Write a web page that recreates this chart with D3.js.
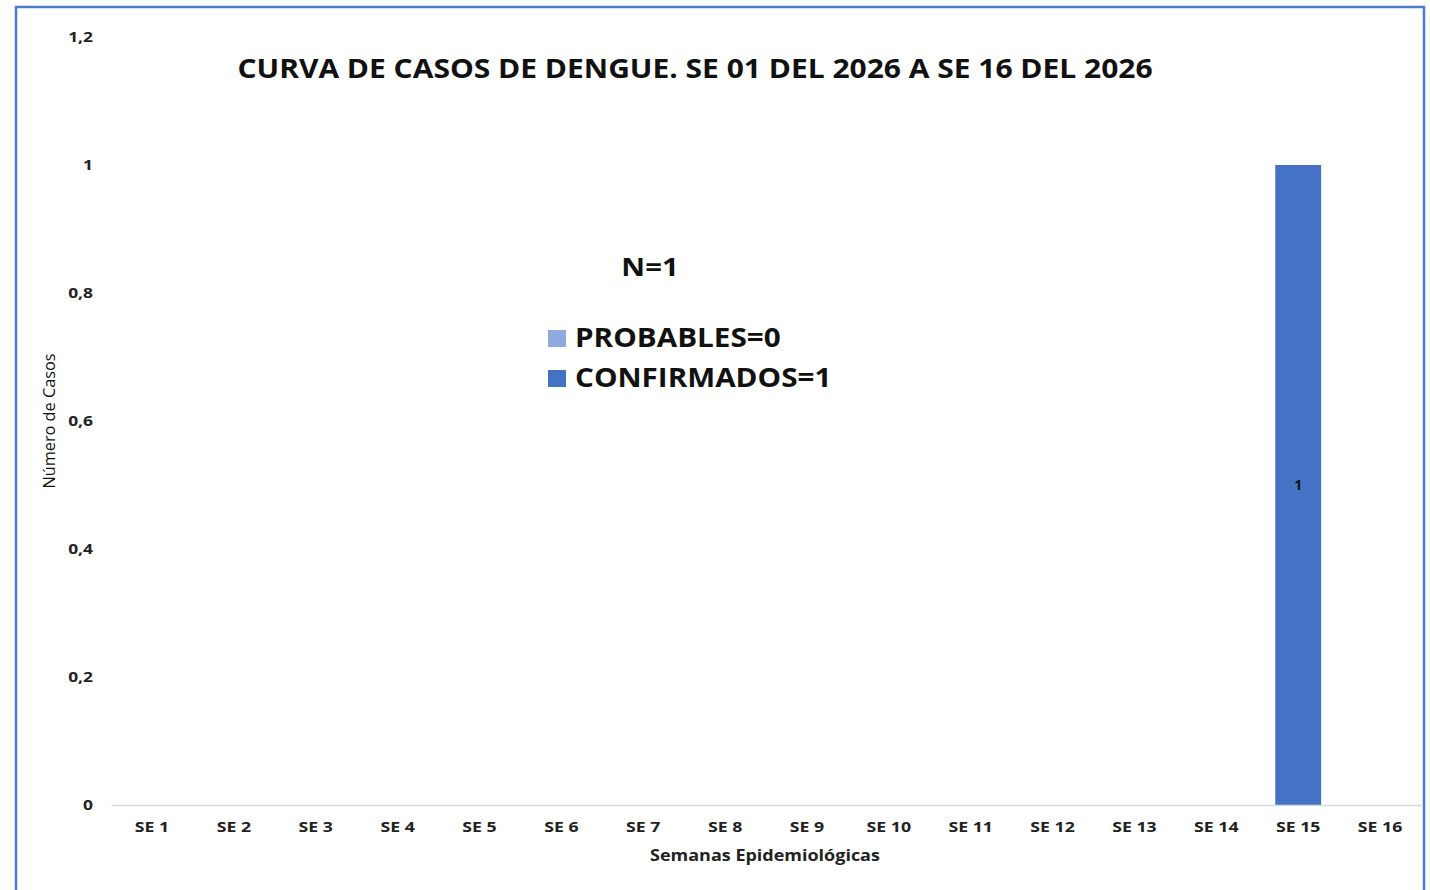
<!DOCTYPE html>
<html>
<head>
<meta charset="utf-8">
<script src="https://cdn.jsdelivr.net/npm/d3@7"></script>
<style>
  body { margin: 0; background: #fff; }
  svg { display: block; font-family: "Open Sans", "Liberation Sans", sans-serif; }
</style>
</head>
<body>
<div id="chart"></div>
<script>
// datos
var semanas = ["SE 1","SE 2","SE 3","SE 4","SE 5","SE 6","SE 7","SE 8","SE 9","SE 10","SE 11","SE 12","SE 13","SE 14","SE 15","SE 16"];
var probables = [0,0,0,0,0,0,0,0,0,0,0,0,0,0,0,0];
var confirmados = [0,0,0,0,0,0,0,0,0,0,0,0,0,0,1,0];
var yTicks = [0, 0.2, 0.4, 0.6, 0.8, 1, 1.2];
var titulo = "CURVA DE CASOS DE DENGUE. SE 01 DEL 2026 A SE 16 DEL 2026";
var serieNombres = ["PROBABLES", "CONFIRMADOS"];
var colores = ["#8FAADC", "#4472C4"];

var width = 1430, height = 890;
var margin = {top: 37, right: 10, bottom: 85, left: 111};

// la fuente original es mas ancha, estirar el texto
function stretch(sel, factor) {
    sel.each(function () {
        var len = this.getComputedTextLength();
        d3.select(this)
            .attr("textLength", len * factor)
            .attr("lengthAdjust", "spacingAndGlyphs");
    });
}

var svg = d3.select("#chart").append("svg")
    .attr("width", width)
    .attr("height", height);

// marco
svg.append("rect")
    .attr("x", 16).attr("y", 7)
    .attr("width", 1408).attr("height", 900)
    .attr("fill", "none")
    .attr("stroke", "#4A7BD0")
    .attr("stroke-width", 2.5);

var x = d3.scaleBand()
    .domain(semanas)
    .range([margin.left, width - margin.right + 1])
    .paddingInner(0.44)
    .paddingOuter(0.22);

var y = d3.scaleLinear()
    .domain([0, 1.2])
    .range([height - margin.bottom, margin.top]);

var rows = semanas.map(function (s, i) {
    return {semana: s, PROBABLES: probables[i], CONFIRMADOS: confirmados[i]};
});
var stack = d3.stack().keys(serieNombres)(rows);

var g = svg.append("g");

g.selectAll("g.serie")
    .data(stack)
    .join("g")
    .attr("class", "serie")
    .attr("fill", function (d, i) { return colores[i]; })
    .selectAll("rect")
    .data(function (d) { return d; })
    .join("rect")
    .attr("x", function (d) { return x(d.data.semana); })
    .attr("y", function (d) { return y(d[1]); })
    .attr("width", x.bandwidth())
    .attr("height", function (d) { return y(d[0]) - y(d[1]); });

// etiquetas de datos
stack.forEach(function (serie) {
    serie.forEach(function (d) {
        if (d[1] - d[0] > 0) {
            g.append("text")
                .attr("x", x(d.data.semana) + x.bandwidth() / 2)
                .attr("y", (y(d[0]) + y(d[1])) / 2)
                .attr("dy", "0.35em")
                .attr("text-anchor", "middle")
                .attr("font-size", 14)
                .attr("font-weight", "bold")
                .attr("fill", "#111")
                .text(d[1] - d[0]);
        }
    });
});

// eje x
var xAxis = svg.append("g")
    .attr("transform", "translate(0," + y(0) + ")")
    .call(d3.axisBottom(x.copy().paddingInner(0).paddingOuter(0)).tickSize(0).tickPadding(17));
xAxis.select(".domain").attr("stroke", "#D9D9D9").attr("stroke-width", 1.5);
xAxis.selectAll("text")
    .attr("font-size", 14.5).attr("font-weight", "bold").attr("fill", "#222")
    .attr("font-family", "\"Open Sans\", sans-serif")
    .call(stretch, 1.22);

// eje y
var yAxis = svg.append("g")
    .attr("transform", "translate(" + 93 + ",0)")
    .call(d3.axisLeft(y).tickValues(yTicks).tickSize(0).tickPadding(0)
        .tickFormat(function (d) { return d3.format("~g")(d).replace(".", ","); }));
yAxis.select(".domain").remove();
yAxis.selectAll("text")
    .attr("font-size", 14.5).attr("font-weight", "bold").attr("fill", "#222")
    .attr("font-family", "\"Open Sans\", sans-serif")
    .call(stretch, 1.2);

// titulos
svg.append("text")
    .attr("x", 695).attr("y", 78)
    .attr("text-anchor", "middle")
    .attr("font-size", 27).attr("font-weight", "bold").attr("fill", "#111")
    .text(titulo)
    .call(stretch, 1.11);

svg.append("text")
    .attr("transform", "translate(55,421) rotate(-90)")
    .attr("text-anchor", "middle")
    .attr("font-size", 15.5).attr("fill", "#111")
    .text("Número de Casos")
    .call(stretch, 1.05);

svg.append("text")
    .attr("x", 765).attr("y", 861)
    .attr("text-anchor", "middle")
    .attr("font-size", 15.5).attr("font-weight", "bold").attr("fill", "#222")
    .text("Semanas Epidemiológicas")
    .call(stretch, 1.16);

// total y leyenda
var total = d3.sum(probables) + d3.sum(confirmados);
svg.append("text")
    .attr("x", 650).attr("y", 276)
    .attr("text-anchor", "middle")
    .attr("font-size", 25).attr("font-weight", "bold").attr("fill", "#111")
    .text("N=" + total)
    .call(stretch, 1.17);

var totales = [d3.sum(probables), d3.sum(confirmados)];
var leg = svg.append("g").attr("transform", "translate(548,330)");
var items = leg.selectAll("g")
    .data(serieNombres)
    .join("g")
    .attr("transform", function (d, i) { return "translate(0," + i * 40 + ")"; });
items.append("rect")
    .attr("width", 18).attr("height", 17)
    .attr("fill", function (d, i) { return colores[i]; });
items.append("text")
    .attr("x", 27).attr("y", 17)
    .attr("font-size", 26).attr("font-weight", "bold").attr("fill", "#111")
    .text(function (d, i) { return d + "=" + totales[i]; })
    .call(stretch, 1.14);
</script>
</body>
</html>
